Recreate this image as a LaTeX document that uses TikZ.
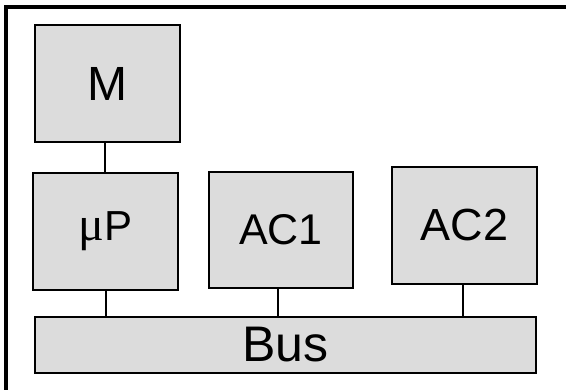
\documentclass[tikz,border=0pt]{standalone}
\usepackage{fontspec}
\setmainfont{Liberation Sans}
\newfontfamily\mufont{Liberation Serif}
\definecolor{boxgray}{HTML}{DCDCDC}
\begin{document}
\begin{tikzpicture}[x=1pt,y=-1pt,
  blk/.style={draw=black, fill=boxgray, line width=2.6pt, inner sep=0pt, anchor=center},
  conn/.style={draw=black, line width=2pt}]
\useasboundingbox (0,0) rectangle (566,389);
\begin{scope}
\clip (0,0) rectangle (566,389);
\draw[line width=3.2pt] (6,7) rectangle (620,440);
\end{scope}
\node[blk, minimum width=145pt, minimum height=117pt, font=\fontsize{48}{50}\selectfont] (M) at (107.5,83.5) {M};
\node[blk, minimum width=145pt, minimum height=117pt, font=\fontsize{42}{44}\selectfont] (P) at (105.5,231.5) {{\mufont\fontsize{48}{50}\selectfont μ}P};
\node[blk, minimum width=144pt, minimum height=116pt, font=\fontsize{43}{45}\selectfont] (A1) at (281,230) {AC1};
\node[blk, minimum width=145pt, minimum height=117pt, font=\fontsize{45}{47}\selectfont] (A2) at (464.5,225.5) {AC2};
\node[blk, minimum width=501pt, minimum height=56pt, font=\fontsize{50}{52}\selectfont] (B) at (285.5,345) {Bus};
\draw[conn] (P.north) ++(-0.5pt,0) coordinate (pm) (pm |- M.south) -- (pm);
\draw[conn] (P.south) -- (P.south |- B.north);
\draw[conn] ([xshift=-3pt]A1.south) -- ([xshift=-3pt]A1.south |- B.north);
\draw[conn] ([xshift=-1.5pt]A2.south) -- ([xshift=-1.5pt]A2.south |- B.north);
\end{tikzpicture}
\end{document}
